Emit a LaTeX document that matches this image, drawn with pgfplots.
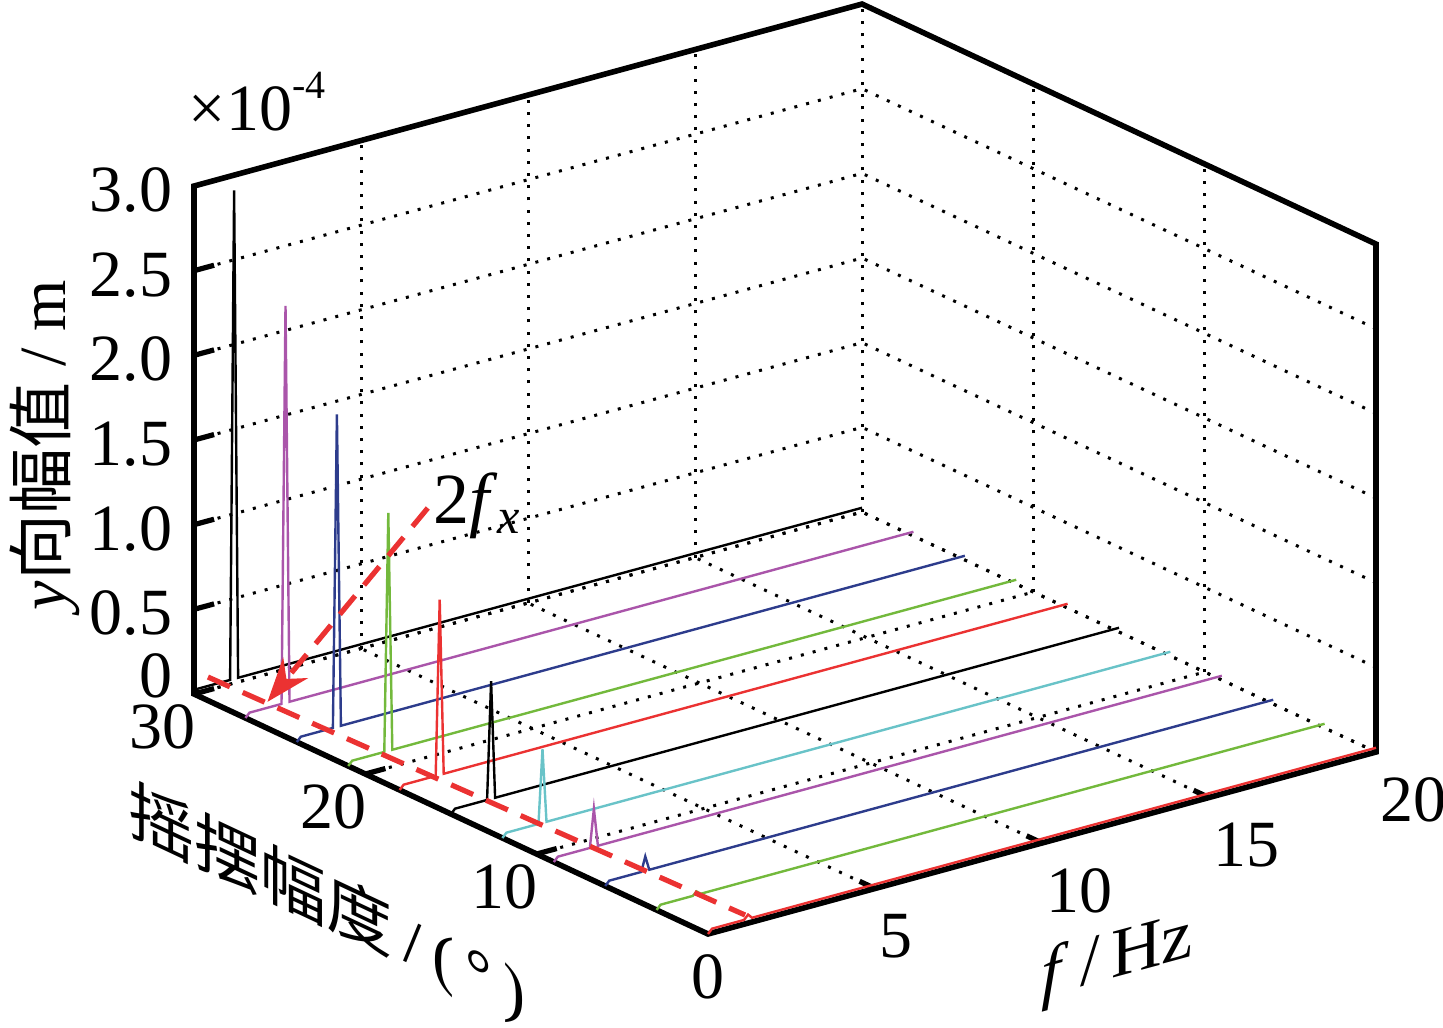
\documentclass[border=0pt]{standalone}
\usepackage{fontspec}
\setmainfont{Liberation Serif}
\newfontfamily\cjk{Noto Sans CJK SC}
\usepackage{pgfplots}
\pgfplotsset{compat=1.18}
\usetikzlibrary{arrows.meta}
\definecolor{mred}{RGB}{235,50,50}
\definecolor{mgreen}{RGB}{115,185,60}
\definecolor{mblue}{RGB}{45,60,140}
\definecolor{mmag}{RGB}{170,85,170}
\definecolor{mcyan}{RGB}{105,195,200}
\newcommand{\fs}{\fontsize{16.5}{20}\selectfont}
\begin{document}
\begin{tikzpicture}
\begin{axis}[
  x={(8.35pt,2.275pt)}, y={(-4.283pt,2pt)}, z={(0pt,42.33pt)},
  xmin=0,xmax=20,ymin=0,ymax=30,zmin=0,zmax=3,
  xtick={0,5,10,15,20}, ytick={0,10,20,30}, ztick={0,0.5,1,1.5,2,2.5,3},
  xticklabels={,5,10,15,20}, yticklabels={,10,20,30},
  zticklabels={,0.5,1.0,1.5,2.0,2.5,3.0},
  grid=major,
  grid style={black, line width=0.75pt, dash pattern=on 0.75pt off 2.3pt},
  axis line style={draw=none},
  tick style={draw=none},
  clip=false,
  every tick label/.append style={font=\fs},
  /pgf/number format/assume math mode=true,
  xticklabel style={anchor=north west, inner sep=0pt, xshift=1pt, yshift=-6.25pt},
  yticklabel style={anchor=center, inner sep=0pt, xshift=-8pt, yshift=-8.25pt},
  zticklabel style={anchor=east, inner sep=0pt, xshift=-5.25pt, yshift=-1pt},
]
\coordinate (O) at (axis cs:0,0,0);
% silhouette of the box
\draw[black, line width=1.4pt, line join=miter]
  (axis cs:0,30,0) -- (axis cs:0,30,3) -- (axis cs:20,30,3) -- (axis cs:20,0,3)
  -- (axis cs:20,0,0) -- (axis cs:0,0,0) -- cycle;
% tick marks (inside)
\pgfplotsinvokeforeach{0,0.5,1,1.5,2,2.5}{\draw[black, line width=1.3pt] (axis cs:0,30,#1) -- (axis cs:0.6,30,#1);}
\pgfplotsinvokeforeach{5,10,15}{\draw[black, line width=1.3pt] (axis cs:#1,0,0) -- (axis cs:#1,0.9,0);}
\pgfplotsinvokeforeach{10,20}{\draw[black, line width=1.3pt] (axis cs:0,#1,0) -- (axis cs:0.6,#1,0);}
% data lines, back to front
\addplot3[black, line width=0.6pt, mark=none] coordinates {(0,30,0) (0.12,30,0.025) (1.08,30,0.025) (1.2,30,2.91) (1.32,30,0.025) (20,30,0.025)};
\addplot3[mmag, line width=0.6pt, mark=none] coordinates {(0,27,0) (0.12,27,0.025) (1.08,27,0.025) (1.2,27,2.37) (1.32,27,0.025) (20,27,0.025)};
\addplot3[mblue, line width=0.6pt, mark=none] coordinates {(0,24,0) (0.12,24,0.025) (1.08,24,0.025) (1.2,24,1.87) (1.32,24,0.025) (20,24,0.025)};
\addplot3[mgreen, line width=0.6pt, mark=none] coordinates {(0,21,0) (0.12,21,0.025) (1.08,21,0.025) (1.2,21,1.43) (1.32,21,0.025) (20,21,0.025)};
\addplot3[mred, line width=0.6pt, mark=none] coordinates {(0,18,0) (0.12,18,0.025) (1.08,18,0.025) (1.2,18,1.06) (1.32,18,0.025) (20,18,0.025)};
\addplot3[black, line width=0.6pt, mark=none] coordinates {(0,15,0) (0.12,15,0.025) (1.08,15,0.025) (1.2,15,0.72) (1.32,15,0.025) (20,15,0.025)};
\addplot3[mcyan, line width=0.6pt, mark=none] coordinates {(0,12,0) (0.12,12,0.025) (1.08,12,0.025) (1.2,12,0.46) (1.32,12,0.025) (20,12,0.025)};
\addplot3[mmag, line width=0.6pt, mark=none] coordinates {(0,9,0) (0.12,9,0.025) (1.08,9,0.025) (1.2,9,0.25) (1.32,9,0.025) (20,9,0.025)};
\addplot3[mblue, line width=0.6pt, mark=none] coordinates {(0,6,0) (0.12,6,0.025) (1.08,6,0.025) (1.2,6,0.11) (1.32,6,0.025) (20,6,0.025)};
\addplot3[mgreen, line width=0.6pt, mark=none] coordinates {(0,3,0) (0.12,3,0.025) (1.08,3,0.025) (1.2,3,0.045) (1.32,3,0.025) (20,3,0.025)};
\addplot3[mred, line width=0.6pt, mark=none] coordinates {(0,0,0) (0.12,0,0.025) (1.08,0,0.025) (1.2,0,0.05) (1.32,0,0.025) (20,0,0.025)};
% annotation
\draw[mred, line width=1.3pt, dash pattern=on 6pt off 3.5pt] (axis cs:0.95,31.04,0) -- (axis cs:1.47,0.7,0);
\draw[mred, line width=1.3pt, dash pattern=on 6pt off 3.5pt, -{Stealth[length=11pt,width=8pt]}] (axis cs:5.87,27.8,0.887) -- (axis cs:1.07,27.8,0);
\node[anchor=base west, inner sep=0pt, font=\fontsize{18}{20}\selectfont] at (axis cs:6.02,27.8,0.79) {2\textit{f}\textsubscript{\textit{x}}};
% labels
\node[anchor=base west, inner sep=0pt, font=\fs, xshift=-1.5pt, yshift=14pt] at (axis cs:0,30,3) {×10\raisebox{8pt}{\fontsize{10}{12}\selectfont -4}};
\node[anchor=east, font=\fs, inner sep=0pt, xshift=-5.25pt, yshift=4.5pt] at (axis cs:0,30,0) {0};
\node[font=\fs, inner sep=0pt, yshift=-10.75pt] at (axis cs:0,0,0) {0};
\node[rotate=90, font=\fs, inner sep=0pt] at ([xshift=-37.25pt]axis cs:0,30,1.47) {\textit{y}{\cjk 向幅值} / m};
\node[yslant=-0.47, font=\fs, inner sep=0pt] at (axis cs:-5.97,10.6,0) {{\cjk 摇摆幅度}\,/\,(\,°\,)};
\node[yslant=0.27, font=\fontsize{17.5}{20}\selectfont, inner sep=0pt] at (axis cs:6.7,-10.81,0) {\textit{f}\,/\,Hz};
\end{axis}
\pgfresetboundingbox
\path[use as bounding box] ([shift={(-177pt,233.5pt)}]O) rectangle ([shift={(183.75pt,-23.25pt)}]O);
\end{tikzpicture}
\end{document}
